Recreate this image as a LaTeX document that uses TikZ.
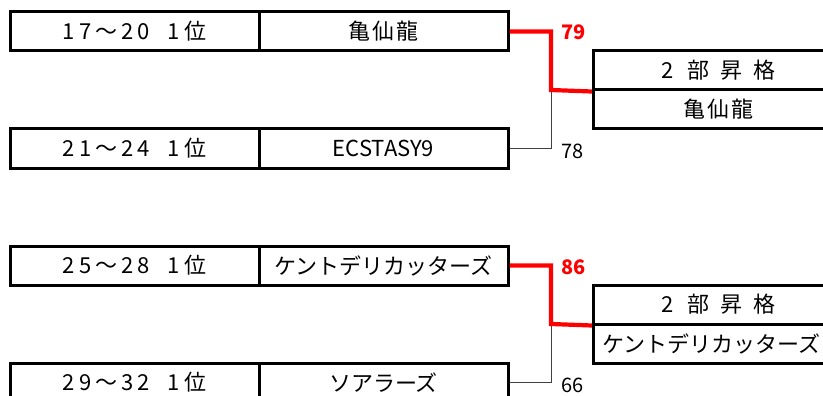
\documentclass[tikz,border=0pt]{standalone}
\usepackage{fontspec}
\setmainfont{Noto Sans CJK JP}
\newcommand{\kk}{\kern4pt}
\begin{document}
\begin{tikzpicture}[x=1pt,y=-1pt,
  cell/.style={draw=black,line width=3pt,rectangle,minimum height=39pt,inner sep=0pt,font=\fontsize{22}{24}\selectfont},
  seed/.style={cell,minimum width=249pt},
  team/.style={cell,minimum width=249pt},
  res/.style={cell,minimum width=250pt,anchor=west},
  win/.style={draw=red,line width=4.2pt},
  lose/.style={draw=black!75,line width=1pt},
  wscore/.style={text=red,font=\fontsize{20}{22}\selectfont\bfseries,anchor=west,inner sep=0pt},
  lscore/.style={text=black,font=\fontsize{20}{22}\selectfont,anchor=west,inner sep=0pt}]
\useasboundingbox (0,0) rectangle (823,396);
\clip (0,0) rectangle (823,396);
% group 1
\node[seed] (s1) at (134.5,31.5) {1\kk{}7\kk{}～\kk{}2\kk{}0\hspace{18pt}1\kk{}位};
\node[team] (t1) at (383.5,31.5) {亀\kern2pt{}仙\kern2pt{}龍};
\node[seed] (s2) at (134.5,148.5) {2\kk{}1\kk{}～\kk{}2\kk{}4\hspace{18pt}1\kk{}位};
\node[team] (t2) at (383.5,148.5) {ECSTASY9};
\node[res] (r1) at (592,70.5) {2\hspace{13pt}部\hspace{11pt}昇\hspace{11pt}格};
\node[res] (r2) at (592,109.5) {亀\kern2pt{}仙\kern2pt{}龍};
\coordinate (m1) at (551,90);
\draw[lose] (t2.east) -| (m1);
\draw[win] (t1.east) -| (m1) -- (r1.south west);
\node[wscore] (sc1) at (561,32) {79};
\node[lscore] (sc2) at (561,151) {78};
% group 2
\node[seed] (s3) at (134.5,265.5) {2\kk{}5\kk{}～\kk{}2\kk{}8\hspace{18pt}1\kk{}位};
\node[team] (t3) at (383.5,265.5) {ケントデリカッターズ};
\node[seed] (s4) at (134.5,382.5) {2\kk{}9\kk{}～\kk{}3\kk{}2\hspace{18pt}1\kk{}位};
\node[team] (t4) at (383.5,382.5) {ソアラーズ};
\node[res] (r3) at (592,304.5) {2\hspace{13pt}部\hspace{11pt}昇\hspace{11pt}格};
\node[res,inner xsep=9pt,text width=232pt,align=left] (r4) at (592,343.5) {ケントデリカッターズ};
\coordinate (m2) at (551,324);
\draw[lose] (t4.east) -| (m2);
\draw[win] (t3.east) -| (m2) -- (r3.south west);
\node[wscore] (sc3) at (561,267) {86};
\node[lscore] (sc4) at (561,385) {66};
\end{tikzpicture}
\end{document}
